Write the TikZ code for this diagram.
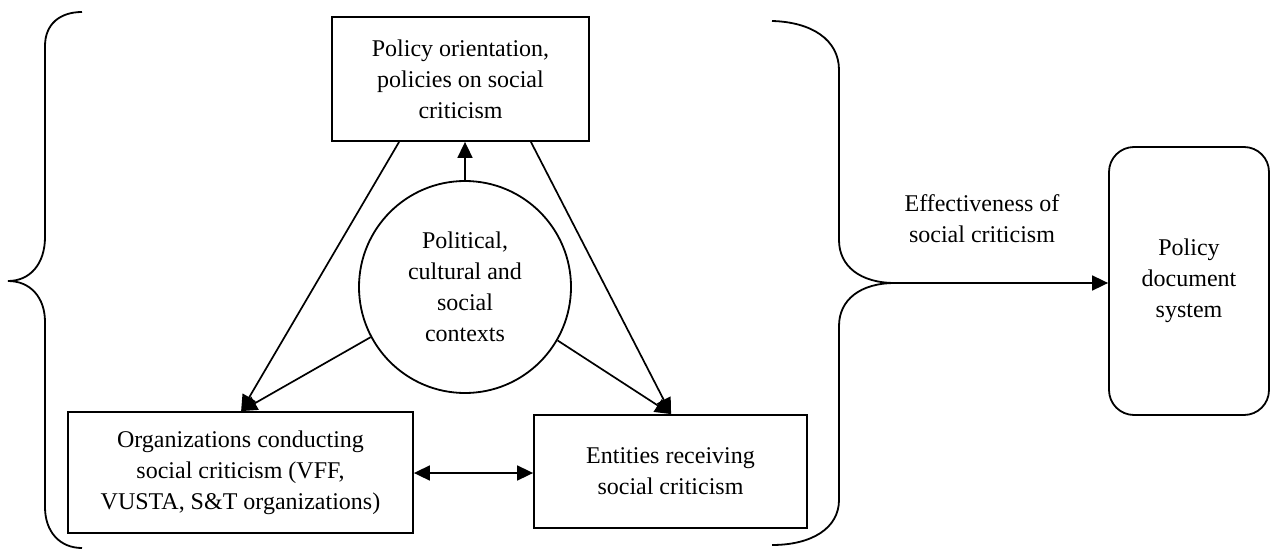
\documentclass[tikz,border=0pt]{standalone}
\usepackage{fontspec}
\setmainfont{Liberation Serif}
\usetikzlibrary{arrows.meta}
\tikzset{
  txt/.style={font=\fontsize{24}{31}\selectfont, align=center, inner sep=0pt},
  box/.style={txt, draw, line width=1.8pt, rectangle},
  conn/.style={line width=1.7pt, -{Triangle[length=16pt,width=15pt]}},
  dconn/.style={line width=1.7pt, {Triangle[length=16pt,width=15pt]}-{Triangle[length=16pt,width=15pt]}},
  bracestyle/.style={line width=1.8pt}
}
\begin{document}
\begin{tikzpicture}[x=1pt,y=-1pt]
\useasboundingbox (0,0) rectangle (1271,551);
% nodes
\node[box, minimum width=257pt, minimum height=124pt] (top) at (460.5,79) {Policy orientation,\\policies on social\\criticism};
\node[txt, draw, line width=1.8pt, circle, minimum size=212pt] (ctx) at (465,287) {Political,\\cultural and\\social\\contexts};
\node[box, minimum width=345pt, minimum height=121pt] (org) at (240.5,472.5) {Organizations conducting\\social criticism (VFF,\\VUSTA, S\&T organizations)};
\node[box, minimum width=273pt, minimum height=113pt] (ent) at (670.5,471.5) {Entities receiving\\social criticism};
\node[box, rounded corners=25pt, minimum width=160pt, minimum height=268pt] (doc) at (1189,281) {Policy\\document\\system};
\node[txt] (eff) at (982,219) {Effectiveness of\\social criticism};
% braces
\draw[bracestyle] (82,12) .. controls (60,12) and (45,24) .. (45,46) -- (45,237)
  .. controls (45,264) and (30,281) .. (8,281)
  .. controls (30,281) and (45,297) .. (45,322) -- (45,507)
  .. controls (45,532) and (60,548) .. (82,548);
\coordinate (tip) at (895,283);
\draw[bracestyle] (772,21) .. controls (812,22) and (839,40) .. (839,70) -- (839,240)
  .. controls (839,266) and (860,283) .. (tip)
  .. controls (860,283) and (839,300) .. (839,326) -- (839,500)
  .. controls (839,528) and (812,545) .. (772,545);
% connectors
\draw[conn] (ctx.north) -- (ctx.north |- top.south);
\draw[conn] ([xshift=68pt]top.south west) -- ([xshift=174pt]org.north west);
\draw[conn] (ctx.208) -- ([xshift=174pt]org.north west);
\draw[conn] ([xshift=-59pt]top.south east) -- ([xshift=138pt]ent.north west);
\draw[conn] (ctx.330) -- ([xshift=138pt]ent.north west);
\draw[dconn] (org.east |- 0,473) -- (ent.west |- 0,473);
\draw[conn] (tip) -- (doc.west |- tip);
\end{tikzpicture}
\end{document}
